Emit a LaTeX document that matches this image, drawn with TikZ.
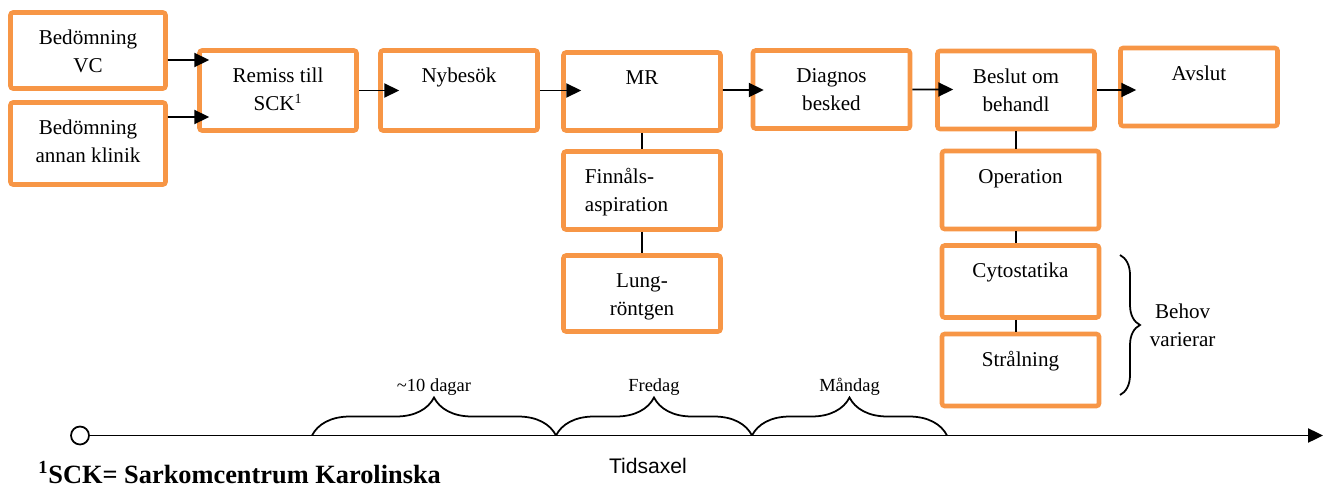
\documentclass[tikz,border=0pt]{standalone}
\usepackage{fontspec}
\setmainfont{Liberation Serif}
\setsansfont{Liberation Sans}
\usetikzlibrary{arrows.meta,decorations.pathreplacing}
\definecolor{boxorange}{HTML}{F79646}

\begin{document}
\begin{tikzpicture}[
    font=\fontsize{12}{16}\selectfont,
    stepbox/.style={draw=boxorange, line width=2.6pt, rounded corners=1.5pt,
      minimum width=3.14cm, minimum height=1.56cm, inner sep=0pt},
    steptext/.style={anchor=north, align=center, inner sep=0pt, yshift=-0.29cm},
    boxtext/.style={label={[steptext]north:{\strut #1}}},
    flow/.style={line width=1.1pt, -{Triangle[length=8.5pt, width=8pt]}},
    link/.style={line width=1pt},
    tidbrace/.style={decorate, decoration={brace, amplitude=0.76cm}, line width=1pt},
    bracetext/.style={above=0.78cm, inner sep=0pt, font=\fontsize{10.5}{12}\selectfont}
  ]
    \useasboundingbox (0,0) rectangle (26.56,-9.76);

    % Rutor
    \node[stepbox, minimum width=3.1cm, minimum height=1.52cm, boxtext={Bedömning\\VC}] (vc) at (1.76,-1.01) {};
    \node[stepbox, minimum width=3.1cm, minimum height=1.64cm, boxtext={Bedömning\\annan klinik}] (annan) at (1.76,-2.87) {};
    \node[stepbox, minimum height=1.6cm, boxtext={Remiss till\\SCK\textsuperscript{1}}] (remiss) at (5.56,-1.81) {};
    \node[stepbox, minimum height=1.6cm, boxtext={Nybesök}] (nybesok) at (9.18,-1.81) {};
    \node[stepbox, boxtext={MR}] (mr) at (12.84,-1.83) {};
    \node[stepbox, boxtext={Diagnos\\besked}] (diagnos) at (16.63,-1.79) {};
    \node[stepbox, boxtext={Beslut om\\behandl}] (beslut) at (20.32,-1.80) {};
    \node[stepbox, boxtext={Avslut}] (avslut) at (23.98,-1.74) {};

    \node[stepbox, label={[steptext, align=left, xshift=-0.31cm]north:{\strut Finnåls-\\aspiration}}] (finnals) at (12.84,-3.81) {};
    \node[stepbox, minimum height=1.52cm, boxtext={Lung-\\röntgen}] (lung) at (12.84,-5.87) {};

    \node[stepbox, boxtext={Operation}] (operation) at (20.41,-3.80) {};
    \node[stepbox, minimum height=1.44cm, boxtext={Cytostatika}] (cyto) at (20.41,-5.63) {};
    \node[stepbox, minimum height=1.44cm, boxtext={Strålning}] (stral) at (20.41,-7.40) {};

    % Pilar
    \draw[flow] ([yshift=-0.19cm]vc.east) -- ([xshift=0.24cm, yshift=0.61cm]remiss.west);
    \draw[flow] ([yshift=0.53cm]annan.east) -- ([xshift=0.24cm, yshift=-0.53cm]remiss.west);
    \draw[flow] (remiss.east) -- ([xshift=0.42cm]nybesok.west);
    \draw[flow] (nybesok.east) -- ([xshift=0.40cm, yshift=0.02cm]mr.west);
    \draw[flow] ([yshift=0.03cm]mr.east) -- ([xshift=0.26cm, yshift=-0.01cm]diagnos.west);
    \draw[flow] (diagnos.east) -- ([xshift=0.36cm, yshift=0.01cm]beslut.west);
    \draw[flow] (beslut.east) -- ([xshift=0.36cm, yshift=-0.06cm]avslut.west);

    % Linjer
    \draw[link] (mr.south) -- (finnals.north);
    \draw[link] (finnals.south) -- (lung.north);
    \draw[link] (beslut.south) -- (beslut.south |- operation.north);
    \draw[link] (beslut.south |- operation.south) -- (beslut.south |- cyto.north);
    \draw[link] (beslut.south |- cyto.south) -- (beslut.south |- stral.north);

    % Behov varierar
    \coordinate (btop) at (22.4,-5.10);
    \coordinate (bbot) at (22.4,-7.90);
    \draw[decorate, decoration={brace, amplitude=0.4cm}, line width=1pt] (btop) -- node[anchor=west, xshift=0.58cm, align=center, inner sep=0pt] (behov) {Behov\\varierar} (bbot);

    % Tidsaxel
    \node[circle, draw, line width=1pt, minimum size=0.36cm, inner sep=0pt] (start) at (1.6,-8.71) {};
    \coordinate (slut) at (26.46,-8.71);
    \draw[flow] (start.east) -- (slut);
    \node[font=\sffamily\fontsize{12}{14}\selectfont] (tidsaxel) at (12.96,-9.32) {Tidsaxel};

    \coordinate (t0) at (6.24,-8.71);
    \coordinate (t1) at (11.12,-8.71);
    \coordinate (t2) at (15.04,-8.71);
    \coordinate (t3) at (18.94,-8.71);
    \draw[tidbrace] (t0) -- node[bracetext] (dagar) {\textasciitilde10 dagar} (t1);
    \draw[tidbrace] (t1) -- node[bracetext] (fredag) {Fredag} (t2);
    \draw[tidbrace] (t2) -- node[bracetext] (mandag) {Måndag} (t3);

    % Fotnot
    \node[anchor=base west, inner sep=0pt, font=\bfseries\fontsize{15}{18}\selectfont] (fotnot) at (0.76,-9.66) {\textsuperscript{1}SCK= Sarkomcentrum Karolinska};
\end{tikzpicture}
\end{document}
